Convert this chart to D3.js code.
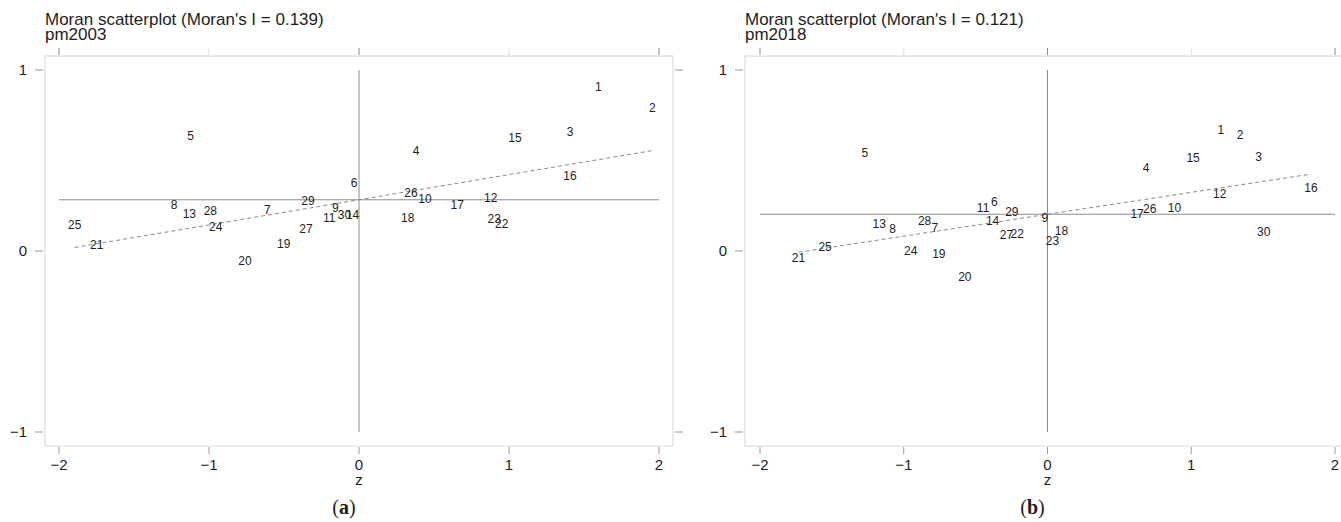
<!DOCTYPE html>
<html>
<head>
<meta charset="utf-8">
<script src="https://cdn.jsdelivr.net/npm/d3@7"></script>
<style>
  body { margin: 0; background: #fff; }
  svg { display: block; }
  text { font-family: "Liberation Sans", Arial, sans-serif; fill: #1e1e1e; }
</style>
</head>
<body>
<div id="chart"></div>
<script>
let width = 1341;
let height = 522;

// point ids, 1..30
let ids = d3.range(1, 31);

// pm2003: standardized value (z) and spatial lag (Wz)
let z2003 = [1.595, 1.955, 1.407, 0.380, -1.122, -0.033, -0.611, -1.233, -0.158, 0.440,
             -0.198, 0.878, -1.131, -0.043, 1.040, 1.407, 0.655, 0.325, -0.502, -0.760,
             -1.749, 0.951, 0.902, -0.955, -1.895, 0.347, -0.353, -0.991, -0.340, -0.097];
let wz2003 = [0.905, 0.790, 0.657, 0.555, 0.635, 0.376, 0.228, 0.253, 0.239, 0.290,
              0.183, 0.294, 0.208, 0.202, 0.628, 0.415, 0.257, 0.183, 0.040, -0.055,
              0.037, 0.153, 0.180, 0.132, 0.142, 0.321, 0.125, 0.220, 0.275, 0.202];

// pm2018
let z2018 = [1.205, 1.340, 1.469, 0.685, -1.270, -0.369, -0.784, -1.078, -0.019, 0.883,
             -0.448, 1.198, -1.171, -0.382, 1.013, 1.833, 0.623, 0.097, -0.756, -0.575,
             -1.732, -0.211, 0.035, -0.951, -1.547, 0.711, -0.285, -0.855, -0.248, 1.504];
let wz2018 = [0.669, 0.642, 0.521, 0.460, 0.541, 0.271, 0.129, 0.125, 0.181, 0.239,
              0.239, 0.315, 0.153, 0.166, 0.515, 0.350, 0.208, 0.110, -0.013, -0.142,
              -0.037, 0.094, 0.057, 0.000, 0.024, 0.232, 0.088, 0.166, 0.217, 0.107];

let xTicks = [-2, -1, 0, 1, 2];
let yTicks = [-1, 0, 1];

let panels = [
    {title: "Moran scatterplot (Moran's I = 0.139)", sub: "pm2003", letter: "a",
     z: z2003, wz: wz2003, moranI: 0.139, meanLag: 0.283,
     left: 45, x0: 59, x1: 659},
    {title: "Moran scatterplot (Moran's I = 0.121)", sub: "pm2018", letter: "b",
     z: z2018, wz: wz2018, moranI: 0.121, meanLag: 0.203,
     left: 745, x0: 760, x1: 1335},
];

let svg = d3.select('#chart').append('svg')
    .attr('width', width)
    .attr('height', height);

let fmt = t => d3.format('')(t).replace('-', '\u2212');

function drawPanel(p) {
    let g = svg.append('g');
    let x = d3.scaleLinear().domain([-2, 2]).range([p.x0, p.x1]);
    let y = d3.scaleLinear().domain([-1, 1]).range([432, 70]);
    let pad = p.left - x(-2);
    let frameRight = x(2) - pad;
    let top = 56, bottom = 446;

    // plot frame
    g.append('rect')
        .attr('x', p.left).attr('y', top)
        .attr('width', frameRight - p.left).attr('height', bottom - top)
        .attr('fill', 'none').attr('stroke', '#d6d6d6').attr('stroke-width', 1);

    // titles
    g.append('text').attr('x', p.left).attr('y', 25)
        .style('font-size', '17px').text(p.title);
    g.append('text').attr('x', p.left).attr('y', 40)
        .style('font-size', '17px').text(p.sub);

    // y ticks on the left and right
    for (let t of yTicks) {
        g.append('line')
            .attr('x1', p.left - 10).attr('x2', p.left - 2)
            .attr('y1', y(t)).attr('y2', y(t))
            .attr('stroke', '#9a9a9a');
        g.append('text')
            .attr('x', p.left - 18).attr('y', y(t)).attr('dy', '0.35em')
            .attr('text-anchor', 'end')
            .style('font-size', '15px')
            .text(fmt(t));
        if (t !== 0) {
            g.append('line')
                .attr('x1', frameRight + 2).attr('x2', frameRight + 10)
                .attr('y1', y(t)).attr('y2', y(t))
                .attr('stroke', '#9a9a9a');
        }
    }

    // x ticks bottom and top
    for (let t of xTicks) {
        g.append('line')
            .attr('x1', x(t)).attr('x2', x(t))
            .attr('y1', bottom + 1).attr('y2', bottom + 8)
            .attr('stroke', '#9a9a9a');
        g.append('line')
            .attr('x1', x(t)).attr('x2', x(t))
            .attr('y1', top - 8).attr('y2', top - 1)
            .attr('stroke', t % 2 === 0 ? '#8a8a8a' : '#dcdcdc');
        g.append('text')
            .attr('x', x(t)).attr('y', 470)
            .attr('text-anchor', 'middle')
            .style('font-size', '15px')
            .text(fmt(t));
    }

    g.append('text').attr('x', x(0)).attr('y', 485)
        .attr('text-anchor', 'middle').style('font-size', '15px').text('z');

    let cap = g.append('text').attr('x', x(0) - 15).attr('y', 514)
        .attr('text-anchor', 'middle')
        .style('font-family', '"Liberation Serif", "DejaVu Serif", serif')
        .style('font-size', '20px');
    cap.append('tspan').text('(');
    cap.append('tspan').style('font-weight', 'bold').text(p.letter);
    cap.append('tspan').text(')');

    // reference lines
    g.append('line')
        .attr('x1', x(0)).attr('x2', x(0))
        .attr('y1', y(1)).attr('y2', y(-1))
        .attr('stroke', '#8c8c8c');
    g.append('line')
        .attr('x1', x(-2)).attr('x2', x(2))
        .attr('y1', y(p.meanLag)).attr('y2', y(p.meanLag))
        .attr('stroke', '#8c8c8c');

    // fitted line over the range of z
    let ext = d3.extent(p.z);
    g.append('line')
        .attr('x1', x(ext[0])).attr('x2', x(ext[1]))
        .attr('y1', y(p.meanLag + p.moranI * ext[0]))
        .attr('y2', y(p.meanLag + p.moranI * ext[1]))
        .attr('stroke', '#8a8a8a').attr('stroke-dasharray', '4,3');

    // point labels
    g.append('g').selectAll('text')
        .data(ids)
        .enter().append('text')
        .attr('x', (d, i) => x(p.z[i]))
        .attr('y', (d, i) => y(p.wz[i]))
        .attr('dy', '0.35em')
        .attr('text-anchor', 'middle')
        .style('font-size', '12px')
        .text(d => d);
}

panels.forEach(drawPanel);
</script>
</body>
</html>
